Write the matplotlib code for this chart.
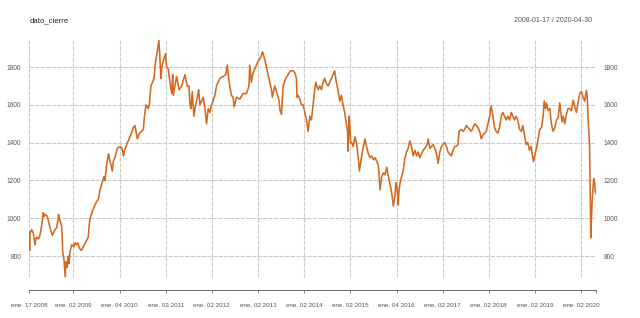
import matplotlib
matplotlib.use("Agg")
import matplotlib.pyplot as plt
import pandas as pd

# ---------------- data ----------------
d2008 = ["2008-01-17","2008-01-22","2008-01-25","2008-02-07","2008-02-20","2008-03-04","2008-03-10",
         "2008-03-18","2008-03-31","2008-04-13","2008-04-26","2008-05-09","2008-05-16","2008-05-23",
         "2008-06-05","2008-06-18","2008-07-01","2008-07-10","2008-07-19","2008-07-30","2008-08-10",
         "2008-08-23","2008-09-02","2008-09-07","2008-09-12","2008-09-18","2008-10-01","2008-10-06",
         "2008-10-10","2008-10-20","2008-10-30","2008-11-04","2008-11-10","2008-11-14","2008-11-23",
         "2008-11-28","2008-12-06","2008-12-20"]
v2008 = [930, 830, 920, 940, 920, 860, 890,
         900, 890, 910, 960, 1030, 1010, 1020,
         1015, 990, 950, 930, 910, 925, 940,
         950, 990, 1020, 1000, 990, 960, 900,
         820, 780, 690, 770, 750, 740, 800,
         760, 820, 860]

d2009 = ["2009-01-07","2009-01-15","2009-01-23","2009-02-05","2009-02-18","2009-03-03","2009-03-12",
         "2009-03-22","2009-04-07","2009-04-22","2009-04-30","2009-05-07","2009-05-14","2009-05-25",
         "2009-06-09","2009-06-22","2009-07-06","2009-07-19","2009-08-01","2009-08-14","2009-09-01",
         "2009-09-09","2009-09-22","2009-10-01","2009-10-08","2009-10-16","2009-10-24","2009-11-06",
         "2009-11-14","2009-11-27","2009-12-16"]
v2009 = [850, 870, 860, 870, 845, 830, 835,
         850, 870, 890, 900, 960, 1000, 1020,
         1050, 1070, 1090, 1100, 1150, 1180, 1220,
         1200, 1280, 1320, 1340, 1310, 1290, 1250,
         1300, 1320, 1370]

d2010 = ["2010-01-06","2010-01-22","2010-02-03","2010-02-07","2010-02-28","2010-03-13","2010-04-01",
         "2010-04-21","2010-05-05","2010-05-23","2010-06-08","2010-06-27","2010-07-10","2010-07-17",
         "2010-07-31","2010-08-18","2010-08-26","2010-09-08","2010-09-21","2010-10-02","2010-10-15",
         "2010-10-28","2010-11-10","2010-11-18","2010-11-26","2010-12-04","2010-12-18"]
v2010 = [1380, 1370, 1330, 1350, 1390, 1410, 1440,
         1480, 1490, 1420, 1450, 1460, 1470, 1530,
         1600, 1580, 1600, 1700, 1720, 1740, 1830,
         1880, 1940, 1850, 1740, 1800, 1840]

d2011 = ["2011-01-02","2011-01-10","2011-01-23","2011-02-06","2011-02-19","2011-02-27","2011-03-04",
         "2011-03-17","2011-03-30","2011-04-18","2011-05-09","2011-06-04","2011-06-22","2011-07-06",
         "2011-07-14","2011-07-22","2011-08-01","2011-08-14","2011-08-28","2011-09-13","2011-09-20",
         "2011-10-01","2011-10-14","2011-10-27","2011-11-09","2011-11-22","2011-12-05","2011-12-18"]
v2011 = [1870, 1800, 1790, 1720, 1660, 1760, 1650,
         1700, 1750, 1680, 1700, 1760, 1700, 1700,
         1600, 1580, 1670, 1540, 1600, 1650, 1680,
         1600, 1620, 1640, 1580, 1500, 1580, 1560]

d2012 = ["2012-01-01","2012-01-13","2012-01-27","2012-02-09","2012-02-22","2012-03-06","2012-04-01",
         "2012-04-22","2012-05-03","2012-05-19","2012-06-06","2012-06-19","2012-06-27","2012-07-16",
         "2012-08-11","2012-09-06","2012-10-03","2012-10-23","2012-10-29","2012-11-11","2012-11-24",
         "2012-12-08"]
v2012 = [1600, 1620, 1650, 1700, 1720, 1740, 1750,
         1760, 1810, 1720, 1650, 1640, 1590, 1640,
         1630, 1660, 1660, 1700, 1810, 1720, 1770,
         1790]

d2013 = ["2013-01-03","2013-01-22","2013-02-07","2013-02-25","2013-03-10","2013-03-23","2013-04-05",
         "2013-04-19","2013-04-26","2013-05-15","2013-06-02","2013-06-18","2013-06-26","2013-07-07",
         "2013-07-20","2013-08-10","2013-08-28","2013-09-16","2013-10-07","2013-10-20","2013-11-02",
         "2013-11-07","2013-11-15","2013-11-29","2013-12-12","2013-12-25"]
v2013 = [1830, 1850, 1880, 1840, 1800, 1760, 1720,
         1680, 1640, 1700, 1660, 1620, 1570, 1550,
         1700, 1740, 1760, 1780, 1780, 1770, 1740,
         1640, 1650, 1630, 1600, 1600]

d2014 = ["2014-01-08","2014-01-21","2014-02-03","2014-02-16","2014-03-01","2014-03-14","2014-03-27",
         "2014-04-04","2014-04-23","2014-05-06","2014-05-19","2014-06-01","2014-06-14","2014-06-28",
         "2014-07-11","2014-07-24","2014-08-06","2014-08-19","2014-09-01","2014-09-14","2014-09-27",
         "2014-10-11","2014-10-24","2014-11-06","2014-11-19","2014-12-02","2014-12-12","2014-12-16",
         "2014-12-24","2014-12-31"]
v2014 = [1560, 1520, 1460, 1540, 1520, 1600, 1680,
         1720, 1680, 1700, 1680, 1720, 1740, 1710,
         1700, 1720, 1740, 1760, 1780, 1720, 1680,
         1620, 1650, 1600, 1560, 1500, 1460, 1355,
         1540, 1470]

d2015 = ["2015-01-05","2015-01-13","2015-01-26","2015-02-08","2015-02-21","2015-03-07","2015-03-15",
         "2015-04-03","2015-04-16","2015-04-29","2015-05-07","2015-05-26","2015-06-08","2015-06-21",
         "2015-07-04","2015-07-18","2015-07-31","2015-08-13","2015-08-26","2015-09-08","2015-09-21",
         "2015-10-04","2015-10-18","2015-10-31","2015-11-13","2015-11-26","2015-12-09","2015-12-22",
         "2015-12-30"]
v2015 = [1400, 1400, 1380, 1430, 1400, 1320, 1250,
         1330, 1380, 1420, 1390, 1340, 1320, 1330,
         1310, 1320, 1300, 1280, 1150, 1220, 1240,
         1230, 1270, 1220, 1180, 1135, 1065, 1120,
         1190]

d2016 = ["2016-01-09","2016-01-17","2016-01-22","2016-01-30","2016-02-12","2016-02-25","2016-03-10",
         "2016-03-23","2016-04-05","2016-04-18","2016-05-01","2016-05-14","2016-05-28","2016-06-10",
         "2016-06-23","2016-07-06","2016-07-19","2016-08-01","2016-08-15","2016-09-02","2016-09-10",
         "2016-09-23","2016-10-06","2016-10-19","2016-11-01","2016-11-15","2016-11-28","2016-12-11",
         "2016-12-24"]
v2016 = [1150, 1070, 1140, 1180, 1220, 1250, 1320,
         1350, 1370, 1410, 1380, 1330, 1360, 1330,
         1350, 1320, 1340, 1360, 1370, 1390, 1420,
         1370, 1380, 1390, 1370, 1340, 1290, 1350,
         1380]

d2017 = ["2017-01-06","2017-01-19","2017-02-01","2017-02-14","2017-02-27","2017-03-12","2017-03-26",
         "2017-04-08","2017-04-21","2017-05-04","2017-05-12","2017-05-31","2017-06-13","2017-06-26",
         "2017-07-09","2017-07-22","2017-08-05","2017-08-18","2017-08-31","2017-09-13","2017-09-26",
         "2017-10-09","2017-10-22","2017-11-04","2017-11-17","2017-12-01","2017-12-14","2017-12-27"]
v2017 = [1390, 1400, 1380, 1350, 1340, 1330, 1360,
         1380, 1380, 1390, 1460, 1470, 1460, 1470,
         1490, 1480, 1470, 1460, 1480, 1500, 1490,
         1480, 1460, 1420, 1440, 1450, 1460, 1500]

d2018 = ["2018-01-09","2018-01-22","2018-02-04","2018-02-17","2018-03-02","2018-03-15","2018-03-29",
         "2018-04-11","2018-04-24","2018-05-07","2018-05-20","2018-06-02","2018-06-16","2018-06-29",
         "2018-07-12","2018-07-25","2018-08-07","2018-08-20","2018-09-03","2018-09-16","2018-09-29",
         "2018-10-12","2018-10-25","2018-11-07","2018-11-21","2018-12-04","2018-12-12","2018-12-22"]
v2018 = [1540, 1595, 1540, 1480, 1460, 1450, 1480,
         1540, 1560, 1540, 1520, 1540, 1520, 1560,
         1540, 1520, 1540, 1520, 1470, 1460, 1490,
         1440, 1390, 1400, 1360, 1380, 1340, 1300]

d2019 = ["2019-01-04","2019-01-15","2019-01-28","2019-02-10","2019-02-24","2019-03-09","2019-03-17",
         "2019-03-28","2019-04-04","2019-04-17","2019-05-01","2019-05-09","2019-05-19","2019-05-27",
         "2019-06-09","2019-06-22","2019-07-05","2019-07-18","2019-07-26","2019-08-06","2019-08-14",
         "2019-08-27","2019-09-09","2019-09-22","2019-10-06","2019-10-19","2019-11-01","2019-11-14",
         "2019-11-27","2019-12-10","2019-12-23"]
v2019 = [1340, 1370, 1420, 1470, 1480, 1540, 1620,
         1580, 1610, 1570, 1580, 1520, 1480, 1460,
         1480, 1520, 1530, 1610, 1560, 1510, 1540,
         1500, 1550, 1580, 1580, 1570, 1625, 1590,
         1560, 1610, 1660]

d2020 = ["2020-01-06","2020-01-19","2020-02-01","2020-02-14","2020-02-21","2020-02-28","2020-03-05",
         "2020-03-10","2020-03-16","2020-03-20","2020-03-25","2020-03-31","2020-04-05","2020-04-12",
         "2020-04-20","2020-04-24","2020-04-30"]
v2020 = [1670, 1640, 1620, 1675, 1640, 1520, 1450,
         1380, 1100, 897, 1000, 1100, 1150, 1210,
         1180, 1140, 1130]

tick_dates = ["2008-01-17","2009-01-02","2010-01-04","2011-01-03","2012-01-02","2013-01-02",
              "2014-01-02","2015-01-02","2016-01-04","2017-01-02","2018-01-02","2019-01-02",
              "2020-01-02","2020-04-30"]
tick_labels = ["ene. 17 2008","ene. 02 2009","ene. 04 2010","ene. 03 2011","ene. 02 2012",
               "ene. 02 2013","ene. 02 2014","ene. 02 2015","ene. 04 2016","ene. 02 2017",
               "ene. 02 2018","ene. 02 2019","ene. 02 2020",""]
y_ticks = [800, 1000, 1200, 1400, 1600, 1800]
title = "dato_cierre"
range_text = "2008-01-17 / 2020-04-30"

dates = pd.to_datetime(d2008 + d2009 + d2010 + d2011 + d2012 + d2013 + d2014 +
                       d2015 + d2016 + d2017 + d2018 + d2019 + d2020)
values = (v2008 + v2009 + v2010 + v2011 + v2012 + v2013 + v2014 +
          v2015 + v2016 + v2017 + v2018 + v2019 + v2020)

# ---------------- figure ----------------
plt.rcParams['font.family'] = ['Liberation Sans', 'DejaVu Sans']
W, H = 640, 318
fig = plt.figure(figsize=(W / 100, H / 100), dpi=100)
ax = fig.add_axes([29 / W, 1 - 278 / H, (596 - 29) / W, (278 - 40) / H])

grid_kw = dict(color='#cccccc', linewidth=0.8, linestyle=(0, (4, 1)), zorder=1)
tdates = pd.to_datetime(tick_dates)
for t in tdates:
    ax.axvline(t, **grid_kw)
for yv in y_ticks:
    ax.axhline(yv, **grid_kw)

ax.plot(dates, values, color='#D2691E', linewidth=1.15, zorder=3)

ax.set_xlim(pd.Timestamp(tick_dates[0]), pd.Timestamp(tick_dates[-1]))
ax.set_ylim(684, 1943)

ax.set_xticks(tdates)
ax.set_xticklabels(tick_labels)
ax.set_yticks(y_ticks)
ax.set_yticklabels([str(v) for v in y_ticks])

for s in ['top', 'left', 'right']:
    ax.spines[s].set_visible(False)
ax.spines['bottom'].set_position(('outward', 8.6))
ax.spines['bottom'].set_color('#666666')
ax.spines['bottom'].set_linewidth(0.7)

ax.tick_params(axis='x', direction='out', length=2.3, width=0.6, color='#666666',
               labelsize=4.5, labelcolor='#555555', pad=7)
ax.tick_params(axis='y', length=0, labelsize=4.7, labelcolor='#555555',
               labelleft=True, labelright=True, pad=5.5)

fig.text(30 / W, 1 - 21 / H, title, ha='left', va='center', fontsize=5.6, color='#222222')
fig.text(592 / W, 1 - 21 / H, range_text, ha='right', va='center', fontsize=5.0, color='#555555')

fig.savefig('out.png', dpi=100)
